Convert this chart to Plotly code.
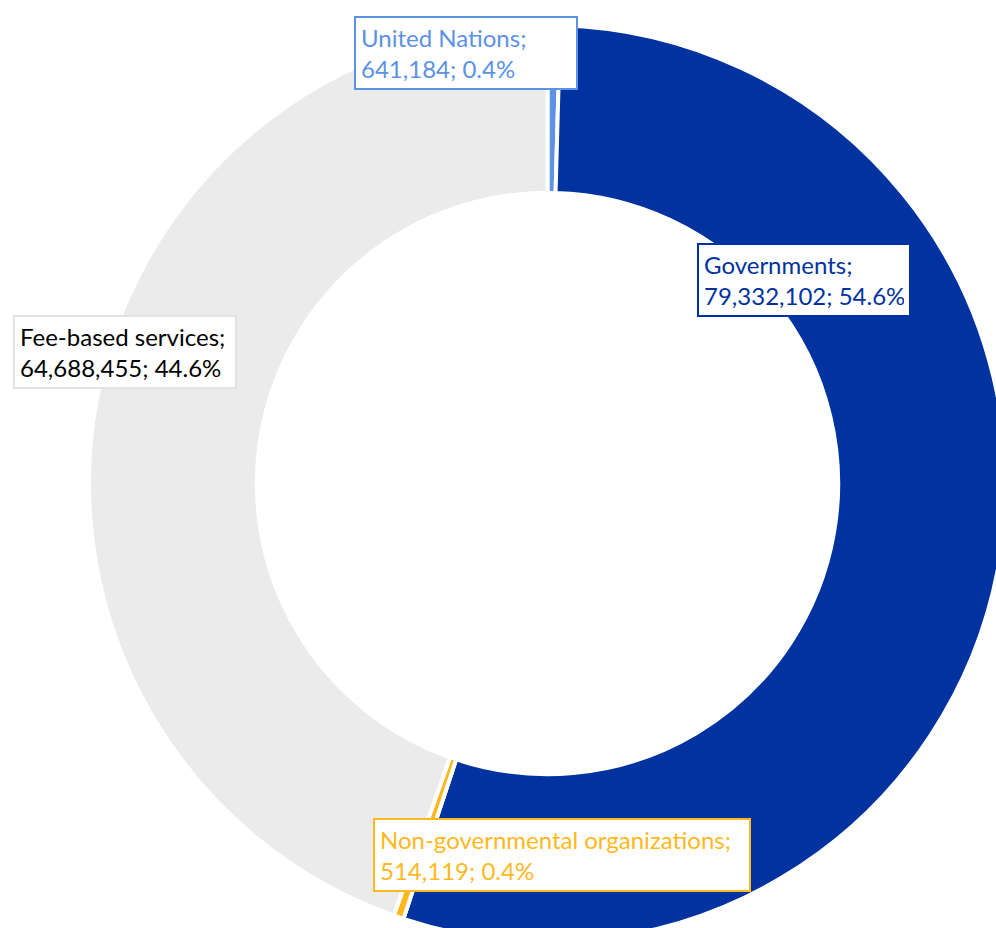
import plotly.graph_objects as go

# Funding sources (clockwise from 12 o'clock)
categories = ["United Nations", "Governments", "Non-governmental organizations", "Fee-based services"]
amounts = [641184, 79332102, 514119, 64688455]
colors = ["#5b92e5", "#0033a0", "#ffb81c", "#ebebeb"]
label_text_colors = ["#5b92e5", "#0033a0", "#ffb81c", "#000000"]
label_border_colors = ["#5b92e5", "#0033a0", "#ffb81c", "#e3e3e3"]

# Figure geometry (pixels)
FIG_W, FIG_H = 1006, 942
M_L, M_T = 89, 25
PLOT_W, PLOT_H = FIG_W - M_L, FIG_H - M_T

# Callout boxes: top-left corner and outer width, in pixels
label_corners = [(354, 16), (697, 243), (373, 818), (13, 315)]
label_box_widths = [224, 214, 378, 224]
BORDER_W, BORDER_PAD = 2, 5

total = sum(amounts)


def to_paper(px, py):
    return (px - M_L) / PLOT_W, 1 - (py - M_T) / PLOT_H


fig = go.Figure(
    go.Pie(
        labels=categories,
        values=amounts,
        hole=0.634,
        sort=False,
        direction="clockwise",
        rotation=0,
        marker=dict(colors=colors, line=dict(color="white", width=4)),
        textinfo="none",
        hoverinfo="label+value+percent",
        showlegend=False,
    )
)

annotations = []
for name, val, tc, bc, (px, py), bw in zip(
    categories, amounts, label_text_colors, label_border_colors, label_corners, label_box_widths
):
    x, y = to_paper(px, py)
    annotations.append(
        dict(
            text=f"{name};<br>{val:,}; {100 * val / total:.1f}%",
            x=x,
            y=y,
            xref="paper",
            yref="paper",
            xanchor="left",
            yanchor="top",
            align="left",
            width=bw - 2 * (BORDER_W + BORDER_PAD),
            showarrow=False,
            font=dict(family="Lato", size=24, color=tc),
            bgcolor="white",
            bordercolor=bc,
            borderwidth=BORDER_W,
            borderpad=BORDER_PAD,
        )
    )

fig.update_layout(
    width=FIG_W,
    height=FIG_H,
    margin=dict(l=M_L, r=0, t=M_T, b=0, autoexpand=False),
    paper_bgcolor="white",
    plot_bgcolor="white",
    annotations=annotations,
)

fig.write_html(
    "out.html",
    post_script="document.documentElement.style.overflow='hidden';document.body.style.overflow='hidden';document.body.style.margin='0';",
)
